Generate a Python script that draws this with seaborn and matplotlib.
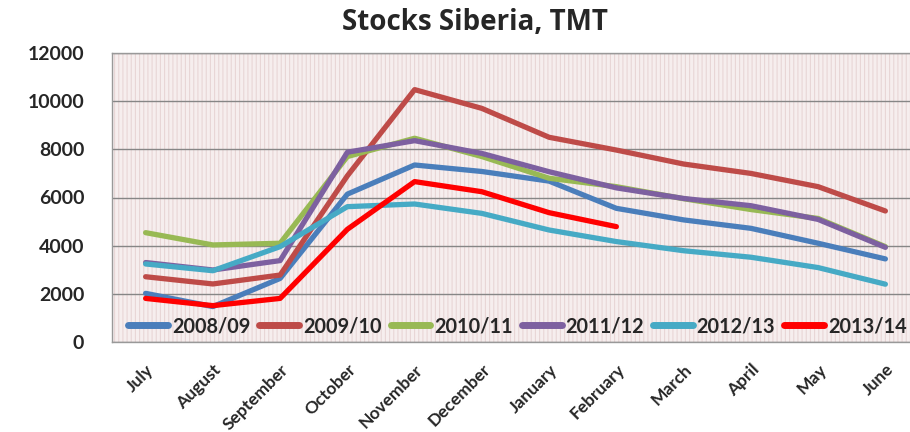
import numpy as np
import pandas as pd
import matplotlib
matplotlib.use("Agg")
import matplotlib.pyplot as plt
import seaborn as sns

months = ["July", "August", "September", "October", "November", "December",
          "January", "February", "March", "April", "May", "June"]
seasons = ["2008/09", "2009/10", "2010/11", "2011/12", "2012/13", "2013/14"]

s2008 = [2020, 1470, 2640, 6140, 7350, 7080, 6680, 5550, 5070, 4720, 4100, 3450]
s2009 = [2710, 2410, 2780, 6900, 10480, 9700, 8500, 7970, 7390, 7000, 6450, 5440]
s2010 = [4540, 4030, 4100, 7700, 8460, 7700, 6800, 6450, 5950, 5500, 5130, 3960]
s2011 = [3300, 2990, 3380, 7880, 8360, 7830, 7070, 6400, 5960, 5660, 5090, 3930]
s2012 = [3240, 2960, 3960, 5620, 5730, 5340, 4650, 4170, 3790, 3520, 3090, 2400]
s2013 = [1810, 1510, 1810, 4680, 6660, 6240, 5370, 4790,
         np.nan, np.nan, np.nan, np.nan]

colors = ["#4A7EBB", "#BE4B48", "#98B954", "#7D60A0", "#46AAC5", "#FF0000"]

rows = []
for name, vals in zip(seasons, [s2008, s2009, s2010, s2011, s2012, s2013]):
    for i, v in enumerate(vals):
        if not np.isnan(v):
            rows.append({"month": i, "season": name, "stock": v})
df = pd.DataFrame(rows)

sns.set_style("white")
plt.rcParams["font.family"] = ["Lato", "DejaVu Sans"]
plt.rcParams["hatch.color"] = "#e6d2d2"
plt.rcParams["hatch.linewidth"] = 0.8

fig = plt.figure(figsize=(9.1, 4.32), dpi=100)
ax = fig.add_axes([112 / 910, 1 - 342 / 432, (919 - 112) / 910, (342 - 53) / 432])
ax.set_facecolor("#f6eeee")
# dotted fill like the original's pattern
ax.add_patch(plt.Rectangle((0, 0), 1, 1, transform=ax.transAxes, facecolor="none",
                           edgecolor="#e8d6d6", hatch="||||", linewidth=0, zorder=0))

sns.lineplot(data=df, x="month", y="stock", hue="season", hue_order=seasons,
             palette=colors, linewidth=3.8, ax=ax, legend=True)

ax.set_xlim(-0.5, 11.5)
ax.set_ylim(0, 12000)
ax.set_yticks(range(0, 12001, 2000))
ax.set_xticks(range(12))
ax.set_xticklabels(months, rotation=45, ha="right", rotation_mode="anchor",
                   fontsize=12.5, fontweight="bold")
for lab in ax.get_yticklabels():
    lab.set_fontsize(14)
    lab.set_fontweight("bold")
ax.tick_params(axis="x", direction="out", length=5, color="#888888", pad=9)
ax.tick_params(axis="y", length=0, pad=20)
ax.yaxis.grid(True, color="#868686", linewidth=1)
ax.set_axisbelow(True)
for sp in ax.spines.values():
    sp.set_color("#999999")
    sp.set_linewidth(1)
ax.set_xlabel("")
ax.set_ylabel("")

leg = ax.legend(loc="lower left", bbox_to_anchor=(0.008, -0.015), ncol=6,
                frameon=False, borderpad=0, handlelength=2.0, handletextpad=0.2,
                columnspacing=0.45, prop={"family": "Lato", "weight": "bold", "size": 14.3})
for h in leg.get_lines():
    h.set_linewidth(5)

fig.text(475 / 910, 1 - 22 / 432, "Stocks Siberia, TMT", ha="center", va="center",
         fontsize=20, fontweight="bold", family="Open Sans")

fig.savefig("out.png", dpi=100)
